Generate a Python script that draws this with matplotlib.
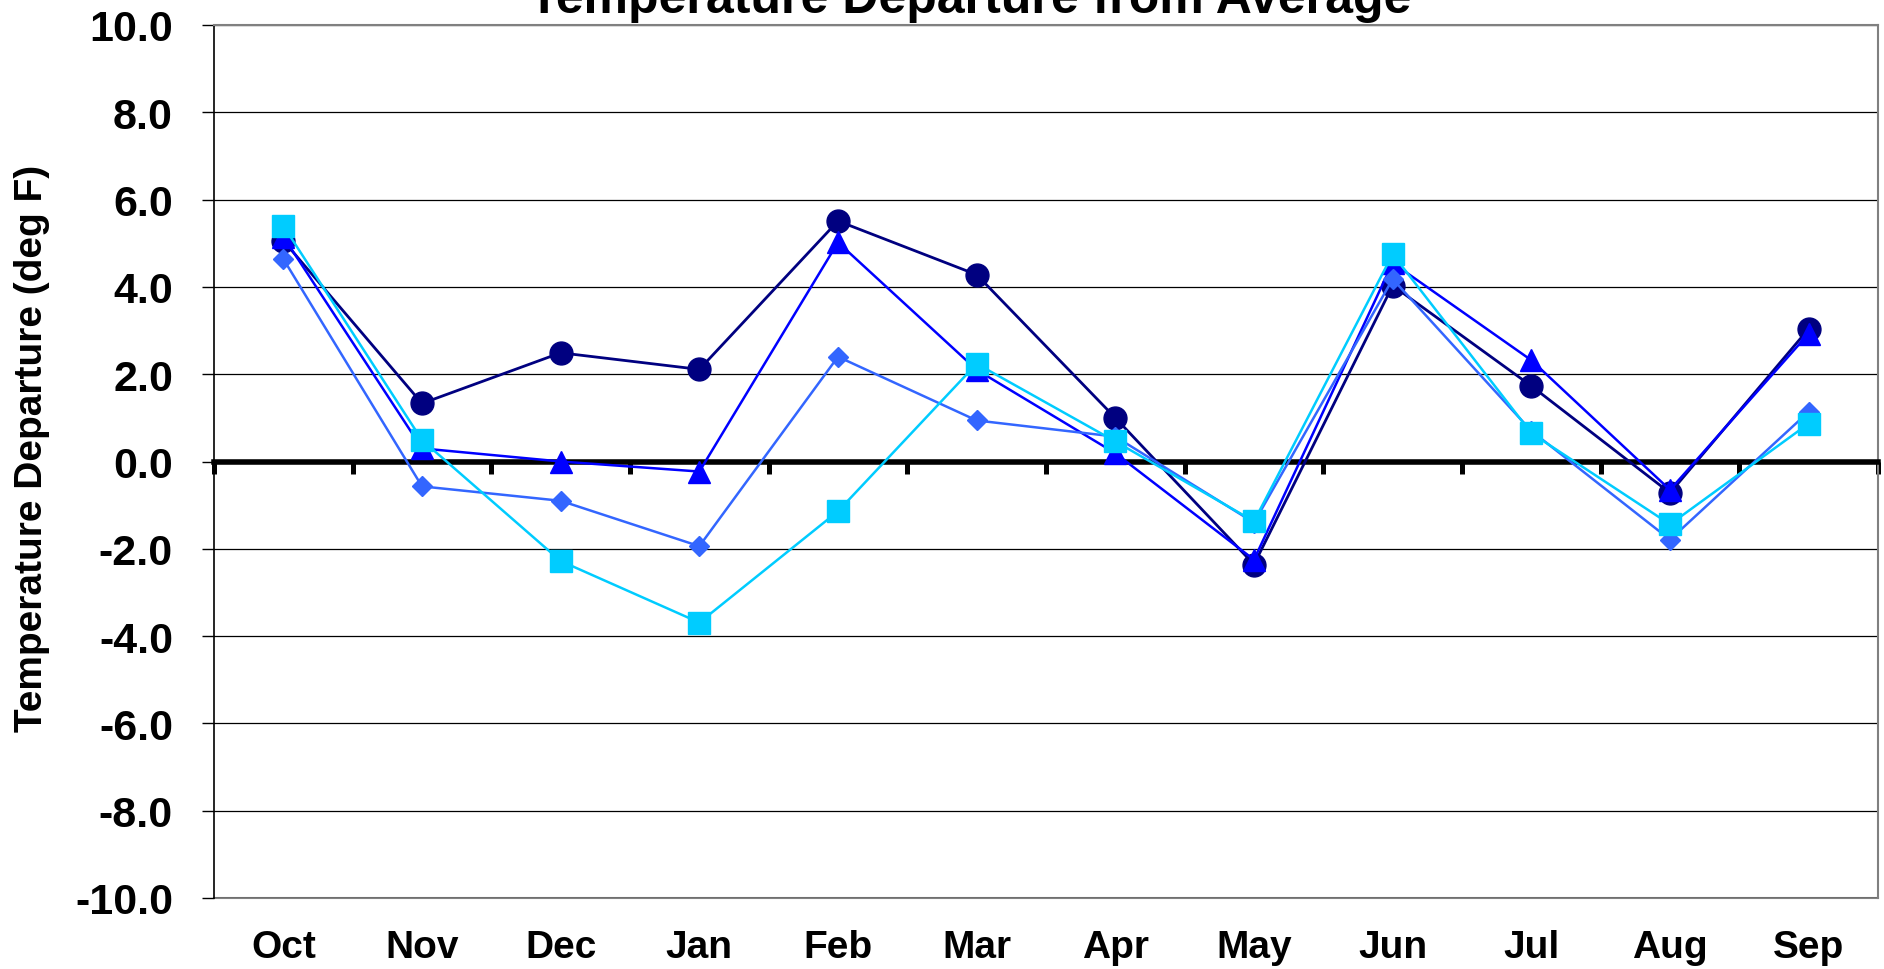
import matplotlib
matplotlib.use('Agg')
import matplotlib.pyplot as plt

# data
months = ['Oct', 'Nov', 'Dec', 'Jan', 'Feb', 'Mar', 'Apr', 'May', 'Jun', 'Jul', 'Aug', 'Sep']
circle_vals = [5.06, 1.33, 2.49, 2.11, 5.51, 4.28, 1.00, -2.36, 4.03, 1.73, -0.72, 3.04]
triangle_vals = [5.15, 0.30, 0.0, -0.23, 5.02, 2.10, 0.19, -2.25, 4.55, 2.32, -0.65, 2.93]
diamond_vals = [4.64, -0.57, -0.90, -1.94, 2.40, 0.94, 0.57, -1.40, 4.18, 0.70, -1.79, 1.14]
square_vals = [5.40, 0.49, -2.28, -3.69, -1.14, 2.24, 0.46, -1.37, 4.75, 0.65, -1.44, 0.87]
yticks = [-10, -8, -6, -4, -2, 0, 2, 4, 6, 8, 10]

plt.rcParams['font.family'] = ['Liberation Sans', 'DejaVu Sans']
plt.rcParams['font.weight'] = 'bold'

fig = plt.figure(figsize=(18.84, 9.70), dpi=100)
ax = fig.add_axes([214 / 1884, 71 / 970, 1664 / 1884, 873 / 970])

x = list(range(len(months)))

ax.plot(x, circle_vals, color='#000080', lw=2.0, marker='o', ms=16.5, mec='#000080', zorder=3)
ax.plot(x, triangle_vals, color='#0000FF', lw=1.8, marker='^', ms=15.5, mec='#0000FF', zorder=4)
ax.plot(x, diamond_vals, color='#3366FF', lw=1.8, marker='D', ms=10.5, mec='#3366FF', zorder=5)
ax.plot(x, square_vals, color='#00CCFF', lw=1.8, marker='s', ms=16.5, mec='#00CCFF', zorder=6)

ax.set_xlim(-0.5, 11.5)
ax.set_ylim(-10, 10)
ax.set_yticks(yticks)
ax.set_yticklabels(['%.1f' % v for v in yticks])
ax.yaxis.grid(True, color='black', lw=0.9)
ax.set_axisbelow(True)
ax.tick_params(axis='y', direction='out', length=8.6, width=1, pad=21, labelsize=31)

# zero line is the category axis, ticks between categories (Excel style)
ax.spines['bottom'].set_position(('data', 0))
ax.spines['bottom'].set_linewidth(4)
ax.spines['bottom'].set_color('black')
ax.spines['bottom'].set_zorder(2.5)
ax.set_xticks([i - 0.5 for i in range(len(months) + 1)])
ax.set_xticklabels([])
ax.tick_params(axis='x', direction='out', length=8.6, width=3.6, color='black')

for side in ['top', 'right']:
    ax.spines[side].set_color('#808080')
    ax.spines[side].set_linewidth(1.5)
ax.spines['left'].set_color('black')
ax.spines['left'].set_linewidth(1.2)

# month labels sit below the plot area
lab = ax.secondary_xaxis('bottom')
lab.set_xticks(x)
lab.set_xticklabels(months)
lab.tick_params(axis='x', length=0, pad=22, labelsize=28)
lab.spines['bottom'].set_color('#808080')
lab.spines['bottom'].set_linewidth(1.5)

fig.text(970 / 1884, 1 - 13 / 970, 'Temperature Departure from Average',
         ha='center', va='baseline', fontsize=36, fontweight='bold')
fig.text(32 / 1884, 1 - 448 / 970, 'Temperature Departure (deg F)',
         rotation=90, ha='center', va='center', fontsize=28, fontweight='bold')

fig.savefig('out.png', dpi=100)
